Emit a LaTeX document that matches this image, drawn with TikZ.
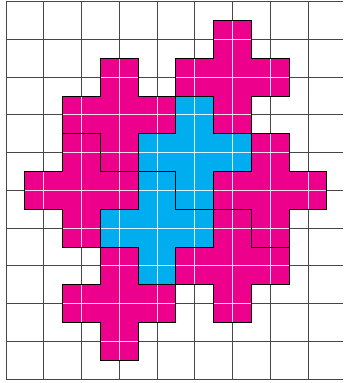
\documentclass[tikz,border=0pt]{standalone}
\definecolor{pmag}{HTML}{EC008C}
\definecolor{pcyan}{HTML}{00AEEF}
\newcommand\crosspath[1]{(#1) ++(-0.5,-1.5) -- ++(1,0) -- ++(0,1) -- ++(1,0) -- ++(0,1) -- ++(-1,0) -- ++(0,1) -- ++(-1,0) -- ++(0,-1) -- ++(-1,0) -- ++(0,-1) -- ++(1,0) -- cycle}
\tikzset{
  gridline/.style={draw=black!72, line width=1pt},
  whiteline/.style={draw=white, opacity=0.85, line width=0.9pt},
  outline/.style={draw=black, line width=1.1pt, line join=miter},
  magfill/.style={fill=pmag},
  cyanfill/.style={fill=pcyan},
}
\begin{document}
\begin{tikzpicture}
\useasboundingbox (0,0) rectangle (343pt,383pt);
\fill[white] (0,0) rectangle (343pt,383pt);
\begin{scope}[x=37.75pt, y=-37.75pt, shift={(6pt,381.3pt)}]
  % grid
  \foreach \i in {0,...,8} \draw[gridline] (\i,0) -- (\i,10);
  \foreach \j in {0,...,10} \draw[gridline] (0,\j) -- (8.93,\j);
  % shapes
  \foreach \c in {{6,2},{3,3},{2,5},{7,5},{6,7},{3,8}} \fill[magfill] \crosspath{\c};
  \foreach \c in {{5,4},{4,6}} \fill[cyanfill] \crosspath{\c};
  % white grid inside shapes
  \begin{scope}
    \clip \crosspath{6,2} \crosspath{3,3} \crosspath{2,5} \crosspath{7,5} \crosspath{6,7} \crosspath{3,8} \crosspath{5,4} \crosspath{4,6};
    \foreach \i in {0,...,8} \draw[whiteline] (\i,0) -- (\i,10);
    \foreach \j in {0,...,10} \draw[whiteline] (0,\j) -- (8.93,\j);
  \end{scope}
  % outlines
  \foreach \c in {{6,2},{3,3},{2,5},{7,5},{6,7},{3,8},{5,4},{4,6}} \draw[outline] \crosspath{\c};
\end{scope}
\end{tikzpicture}
\end{document}
